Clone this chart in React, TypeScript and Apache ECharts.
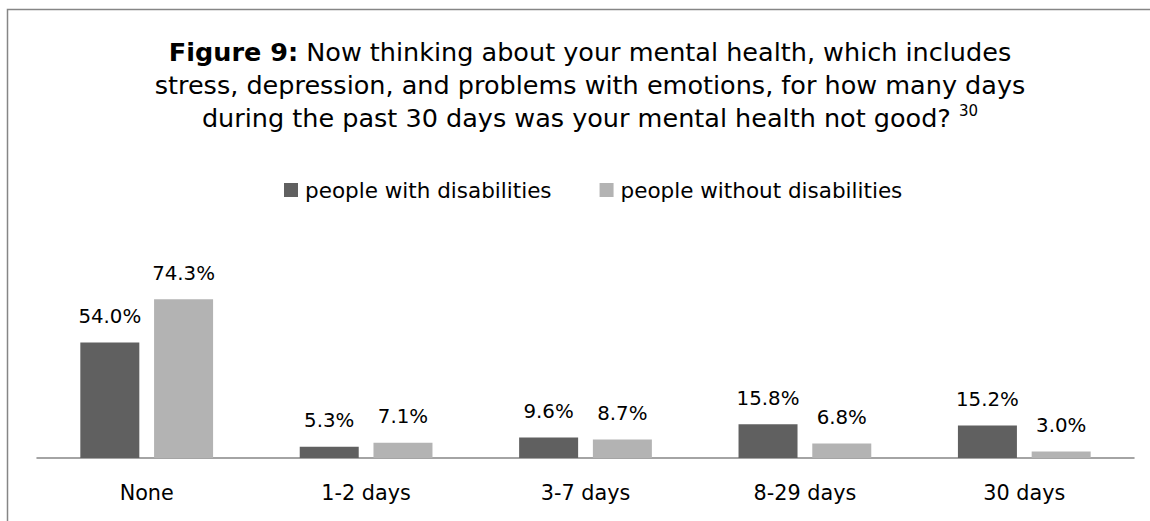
import React, { useEffect, useRef } from "react";
import * as echarts from "echarts";

const categories = ["None", "1-2 days", "3-7 days", "8-29 days", "30 days"];
const withDisabilities = [54.0, 5.3, 9.6, 15.8, 15.2];
const withoutDisabilities = [74.3, 7.1, 8.7, 6.8, 3.0];
const seriesNames = ["people with disabilities", "people without disabilities"];
const titleLines = [
  "{b|Figure 9:} Now thinking about your mental health, which includes",
  "stress, depression, and problems with emotions, for how many days",
  "during the past 30 days was your mental health not good? {sup|30}",
];

const FONT = "DejaVu Sans";

export default function App() {
  const ref = useRef<HTMLDivElement>(null);
  useEffect(() => {
    if (!ref.current) return;
    const chart = echarts.init(ref.current, undefined, { renderer: "svg" });
    const label = {
      show: true,
      position: "top",
      distance: 16,
      fontFamily: FONT,
      fontSize: 19.8,
      color: "#000",
      formatter: (p: any) => p.value.toFixed(1) + "%",
    };
    chart.setOption({
      animation: false,
      backgroundColor: "#fff",
      title: {
        text: titleLines.join("\n"),
        left: 585,
        top: 30,
        textAlign: "center",
        textStyle: {
          fontFamily: FONT,
          fontSize: 25.5,
          fontWeight: "normal",
          color: "#000",
          lineHeight: 33,
          rich: {
            b: { fontFamily: FONT, fontSize: 25.5, fontWeight: "bold", color: "#000", lineHeight: 33 },
            sup: { fontFamily: FONT, fontSize: 15, color: "#000", lineHeight: 33, verticalAlign: "top", padding: [2, 0, 0, 0] },
          },
        },
      },
      legend: {
        data: seriesNames,
        left: 279,
        top: 174,
        icon: "rect",
        itemWidth: 14,
        itemHeight: 14,
        itemGap: 48,
        textStyle: { fontFamily: FONT, fontSize: 21.5, color: "#000", padding: [0, 0, 0, 2] },
      },
      grid: { left: 37, right: 16, top: 287, bottom: 63 },
      xAxis: {
        type: "category",
        data: categories,
        axisLine: { lineStyle: { color: "#868686", width: 1.5 } },
        axisTick: { show: false },
        axisLabel: { fontFamily: FONT, fontSize: 20.75, color: "#000", margin: 24 },
      },
      yAxis: {
        type: "value",
        min: 0,
        max: 80,
        show: false,
        splitLine: { show: false },
      },
      graphic: [
        {
          type: "rect",
          shape: { x: 7.5, y: 9.5, width: 1300, height: 700 },
          style: { fill: "none", stroke: "#868686", lineWidth: 1.5 },
          silent: true,
        },
      ],
      series: [
        {
          name: seriesNames[0],
          type: "bar",
          data: withDisabilities,
          barWidth: 59,
          barGap: "25%",
          itemStyle: { color: "#606060" },
          label,
        },
        {
          name: seriesNames[1],
          type: "bar",
          data: withoutDisabilities,
          barWidth: 59,
          barGap: "25%",
          itemStyle: { color: "#B3B3B3" },
          label,
        },
      ],
    });
    return () => chart.dispose();
  }, []);
  return (
    <div
      ref={ref}
      style={{ position: "absolute", left: 0, top: 0, width: 1150, height: 521 }}
    />
  );
}
